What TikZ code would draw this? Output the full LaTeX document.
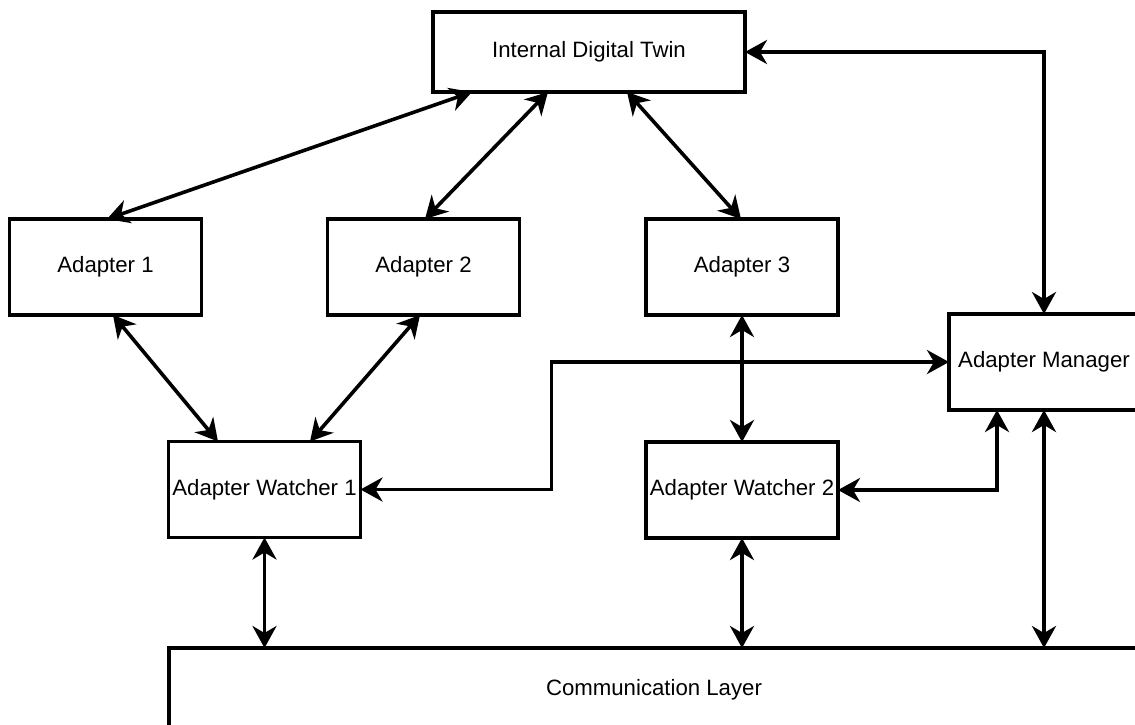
\documentclass[tikz,border=0pt]{standalone}
\usepackage{fontspec}
\setmainfont{Liberation Sans}
\usetikzlibrary{arrows.meta}
\begin{document}
\begin{tikzpicture}[x=1pt,y=-1pt,
  blk/.style={draw=black, line width=3.4pt, fill=white, inner sep=0pt,
    outer sep=0pt, minimum width=192pt, minimum height=96pt,
    font=\fontsize{22.2pt}{26pt}\selectfont},
  link/.style={line width=3.6pt,
    arrows={Stealth[length=22pt,width=24pt,inset=7pt]-Stealth[length=22pt,width=24pt,inset=7pt]}}]
\useasboundingbox (0,0) rectangle (1135,724);
\clip (0,0) rectangle (1135,724);

% blocks
\node[blk, minimum width=312pt, minimum height=80pt] (idt) at (589,52) {Internal Digital Twin};
\node[blk] (a1) at (105.5,267) {Adapter 1};
\node[blk] (a2) at (423.5,267) {Adapter 2};
\node[blk] (a3) at (742,267) {Adapter 3};
\node[blk, minimum width=190pt] (am) at (1044,362) {Adapter Manager};
\node[blk] (aw1) at (264.5,489.5) {Adapter Watcher 1};
\node[blk] (aw2) at (742,490) {Adapter Watcher 2};
\node[blk, minimum width=970pt, minimum height=84pt] (cl) at (654,690) {Communication Layer};

% twin <-> adapters
\draw[link] ([xshift=-117pt]idt.south) -- ([xshift=1.5pt]a1.north);
\draw[link] ([xshift=-41pt]idt.south) -- ([xshift=1.5pt]a2.north);
\draw[link] ([xshift=38pt]idt.south) -- ([xshift=-1pt]a3.north);
\draw[link] (idt.east) -| (am.north);

% adapters <-> watchers
\draw[link] ([xshift=7.5pt]a1.south) -- ([xshift=-46.5pt]aw1.north);
\draw[link] ([xshift=-3.5pt]a2.south) -- ([xshift=45.5pt]aw1.north);
\draw[link] (a3.south) -- (aw2.north);

% watchers <-> manager
\draw[link] (aw1.east) -- ++(191pt,0) |- (am.west);
\draw[link] (aw2.east) -| ([xshift=-47pt]am.south);

% communication layer
\draw[link] (aw1.south) -- (aw1.south |- cl.north);
\draw[link] (aw2.south) -- (aw2.south |- cl.north);
\draw[link] (am.south) -- (am.south |- cl.north);
\end{tikzpicture}
\end{document}
